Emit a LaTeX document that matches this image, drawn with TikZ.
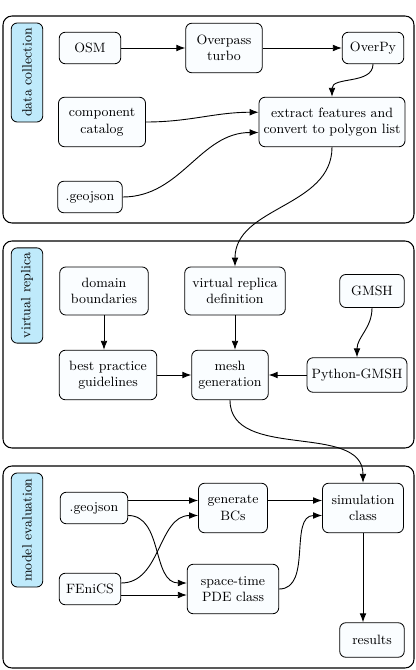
\documentclass[tikz,border=0pt]{standalone}
\usepackage{tikz}
\usetikzlibrary{arrows.meta,positioning,calc}

\begin{document}
\begin{tikzpicture}[
    x=0.6667pt, y=-0.6667pt,
    box/.style={draw, rounded corners=4pt, minimum height=21pt, inner sep=3pt, align=center, font=\small, fill=cyan!2, line width=0.55pt},
    tag/.style={draw, rounded corners=4pt, rotate=90, minimum height=21pt, align=center, font=\small, fill=cyan!25, line width=0.55pt},
    panel/.style={draw, rounded corners=6pt, line width=0.7pt},
    arr/.style={-{Latex[length=6pt,width=4.5pt]}, line width=0.6pt}
]
\useasboundingbox (0,0) rectangle (415,670);

% panels
\draw[panel] (3,16) rectangle (414,223);
\draw[panel] (3,241) rectangle (414,448);
\draw[panel] (3,466) rectangle (414,668);

\node[tag, minimum width=66pt] (lbldata) at (27,72.5) {data collection};
\node[tag, minimum width=63pt] (lblvirt) at (27,295.5) {virtual replica};
\node[tag, minimum width=76pt] (lblmodel) at (27,530) {model evaluation};

% data collection
\node[box, minimum width=41pt] (osm) at (90,48) {OSM};
\node[box, minimum width=51pt, minimum height=33pt] (turbo) at (224,48) {Overpass\\turbo};
\node[box, minimum width=41pt] (overpy) at (373,48) {OverPy};
\node[box, minimum width=58pt, minimum height=33pt] (catalog) at (102,122) {component\\catalog};
\node[box, minimum width=97pt, minimum height=33pt] (extract) at (332,122) {extract features and\\convert to polygon list};
\node[box, minimum width=43pt] (geoa) at (90,197) {.geojson};

% virtual replica
\node[box, minimum width=59pt, minimum height=32pt] (domain) at (104,291) {domain\\boundaries};
\node[box, minimum width=67pt, minimum height=32pt] (vrdef) at (235,291) {virtual replica\\definition};
\node[box, minimum width=43pt, minimum height=22pt] (gmsh) at (372,291) {GMSH};
\node[box, minimum width=65pt, minimum height=33pt] (guide) at (108,375) {best practice\\guidelines};
\node[box, minimum width=51pt, minimum height=33pt] (mesh) at (230,375) {mesh\\generation};
\node[box, minimum width=63pt, minimum height=23pt] (pygmsh) at (357,375) {Python-GMSH};

% model evaluation
\node[box, minimum width=45pt] (geob) at (94,508) {.geojson};
\node[box, minimum width=46pt, minimum height=33pt] (bcs) at (233,508) {generate\\BCs};
\node[box, minimum width=54pt, minimum height=33pt] (sim) at (363,508) {simulation\\class};
\node[box, minimum width=41pt] (fenics) at (90,589) {FEniCS};
\node[box, minimum width=61pt, minimum height=33pt] (pde) at (233,589) {space-time\\PDE class};
\node[box, minimum width=43pt, minimum height=23pt] (results) at (372,640) {results};

\draw[arr] (osm) -- (turbo);
\draw[arr] (turbo) -- (overpy);
\draw[arr] (overpy.south) to[out=-90,in=90] (extract.north);
\draw[arr] (catalog.east) to[out=0,in=180] ([yshift=6.5pt]extract.west);
\draw[arr] (geoa.east) to[out=0,in=180] ([yshift=-7pt]extract.west);
\draw[arr] (extract.south) to[out=-90,in=90] (vrdef.north);

\draw[arr] (domain.south) -- (domain.south |- guide.north);
\draw[arr] (vrdef.south) -- (vrdef.south |- mesh.north);
\draw[arr] (gmsh.south) to[out=-90,in=90] (pygmsh.north);
\draw[arr] (guide) -- (mesh);
\draw[arr] (pygmsh) -- (mesh);
\draw[arr] (mesh.south) to[out=-90,in=90] (sim.north);

\draw[arr] ([yshift=5pt]geob.east) -- ([yshift=5pt]bcs.west);
\draw[arr] ([yshift=-5pt]geob.east) to[out=0,in=180] ([yshift=4pt]pde.west);
\draw[arr] ([yshift=4pt]fenics.east) to[out=0,in=180] ([yshift=-5pt]bcs.west);
\draw[arr] ([yshift=-4pt]fenics.east) -- ([yshift=-4pt]pde.west);
\draw[arr] ([yshift=5pt]bcs.east) -- ([yshift=5pt]sim.west);
\draw[arr] (pde.east) to[out=0,in=180] ([yshift=-5pt]sim.west);
\draw[arr] (sim.south) -- (sim.south |- results.north);
\end{tikzpicture}
\end{document}
